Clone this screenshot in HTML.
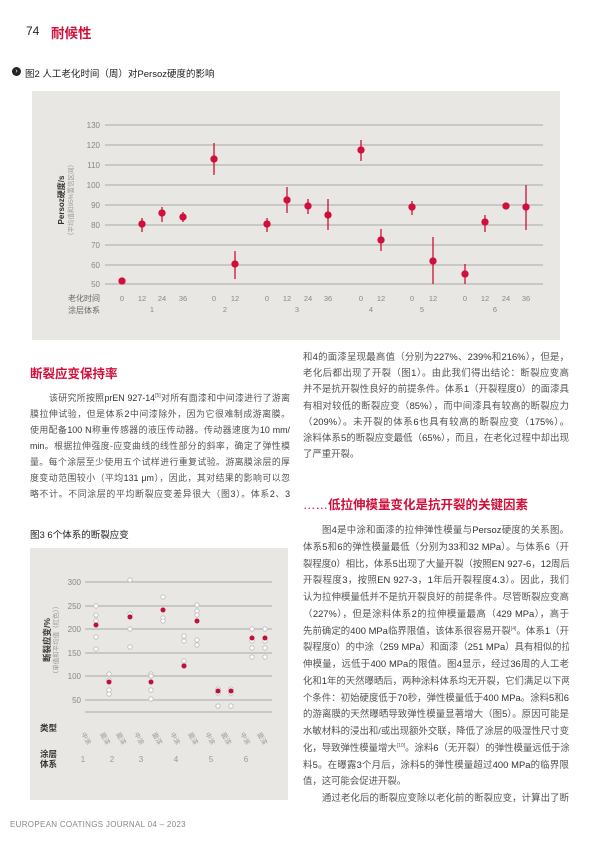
<!DOCTYPE html>
<html><head><meta charset="utf-8"><style>
*{margin:0;padding:0;box-sizing:border-box}
body{width:600px;height:849px;background:#fff;position:relative;overflow:hidden;font-family:"Liberation Sans","Noto Sans CJK SC",sans-serif;}
.l{position:absolute;font-size:9.4px;color:#555;text-align:justify;text-align-last:justify;white-space:nowrap;height:14px;line-height:14px;overflow:hidden}
.s{font-size:8.9px}
.nl{text-align-last:left}
b{color:#333;font-weight:normal}
sup{font-size:5px;line-height:0;vertical-align:4px}
.h{position:absolute;color:#d0103a;font-weight:bold;font-size:12.5px}
svg{position:absolute;left:0;top:0}
</style></head><body>
<div style="position:absolute;left:26px;top:24px;font-size:12px;color:#222">74</div>
<div style="position:absolute;left:51px;top:22px;font-size:13.5px;color:#d0103a;font-weight:bold">耐候性</div>
<div style="position:absolute;left:12px;top:67px;width:9px;height:9px;border-radius:50%;background:#222;color:#fff;font-size:7px;line-height:9px;text-align:center">›</div>
<div style="position:absolute;left:25px;top:66px;font-size:9.5px;color:#222">图2 人工老化时间（周）对Persoz硬度的影响</div>
<div style="position:absolute;left:30px;top:527px;font-size:9.5px;color:#222">图3 6个体系的断裂应变</div>

<svg width="600" height="849" font-family="Liberation Sans, Noto Sans CJK SC, sans-serif">
<rect x="32" y="91" width="528" height="249" fill="#e8e7e3"/>
<g stroke="#a8a8a4" stroke-width="1">
<line x1="105" x2="543" y1="125" y2="125"/><line x1="105" x2="543" y1="145" y2="145"/><line x1="105" x2="543" y1="165" y2="165"/><line x1="105" x2="543" y1="185" y2="185"/><line x1="105" x2="543" y1="205" y2="205"/><line x1="105" x2="543" y1="225" y2="225"/><line x1="105" x2="543" y1="245" y2="245"/><line x1="105" x2="543" y1="265" y2="265"/><line x1="105" x2="543" y1="284" y2="284"/>
</g>
<g font-size="8" fill="#888" text-anchor="end">
<text x="100" y="128">130</text><text x="100" y="148">120</text><text x="100" y="168">110</text><text x="100" y="188">100</text><text x="100" y="208">90</text><text x="100" y="228">80</text><text x="100" y="248">70</text><text x="100" y="268">60</text><text x="100" y="287">50</text>
</g>
<text transform="translate(64,200) rotate(-90)" font-size="8" font-weight="bold" fill="#333" text-anchor="middle">Persoz硬度/s</text>
<text transform="translate(73,200) rotate(-90)" font-size="6.5" fill="#999" text-anchor="middle">（平均值和95%置信区间）</text>
<g font-size="8" fill="#666">
<text x="68" y="301">老化时间</text><text x="68" y="313">涂层体系</text>
</g>
<g font-size="7.5" fill="#888" text-anchor="middle">
<text x="122" y="301">0</text><text x="142" y="301">12</text><text x="162" y="301">24</text><text x="183" y="301">36</text>
<text x="214" y="301">0</text><text x="235" y="301">12</text>
<text x="267" y="301">0</text><text x="287" y="301">12</text><text x="308" y="301">24</text><text x="328" y="301">36</text>
<text x="361" y="301">0</text><text x="381" y="301">12</text>
<text x="412" y="301">0</text><text x="433" y="301">12</text>
<text x="465" y="301">0</text><text x="485" y="301">12</text><text x="506" y="301">24</text><text x="526" y="301">36</text>
<text x="152" y="312">1</text><text x="225" y="312">2</text><text x="297" y="312">3</text><text x="371" y="312">4</text><text x="422" y="312">5</text><text x="495" y="312">6</text>
</g>
<g stroke="#d0103a" stroke-width="1.3" fill="#d0103a">
<line x1="122" x2="122" y1="278" y2="282"/><circle cx="122" cy="281" r="3"/>
<line x1="142" x2="142" y1="218" y2="232"/><circle cx="142" cy="224" r="3"/>
<line x1="162" x2="162" y1="207" y2="222"/><circle cx="162" cy="213" r="3"/>
<line x1="183" x2="183" y1="212" y2="222"/><circle cx="183" cy="217" r="3"/>
<line x1="214" x2="214" y1="143" y2="175"/><circle cx="214" cy="159" r="3"/>
<line x1="235" x2="235" y1="251" y2="279"/><circle cx="235" cy="264" r="3"/>
<line x1="267" x2="267" y1="218" y2="232"/><circle cx="267" cy="224" r="3"/>
<line x1="287" x2="287" y1="187" y2="213"/><circle cx="287" cy="200" r="3"/>
<line x1="308" x2="308" y1="199" y2="214"/><circle cx="308" cy="206" r="3"/>
<line x1="328" x2="328" y1="199" y2="230"/><circle cx="328" cy="215" r="3"/>
<line x1="361" x2="361" y1="140" y2="161"/><circle cx="361" cy="150" r="3"/>
<line x1="381" x2="381" y1="229" y2="251"/><circle cx="381" cy="240" r="3"/>
<line x1="412" x2="412" y1="201" y2="215"/><circle cx="412" cy="207" r="3"/>
<line x1="433" x2="433" y1="237" y2="284"/><circle cx="433" cy="261" r="3"/>
<line x1="465" x2="465" y1="264" y2="284"/><circle cx="465" cy="274" r="3"/>
<line x1="485" x2="485" y1="215" y2="232"/><circle cx="485" cy="222" r="3"/>
<line x1="506" x2="506" y1="203" y2="209"/><circle cx="506" cy="206" r="3"/>
<line x1="526" x2="526" y1="185" y2="230"/><circle cx="526" cy="207" r="3"/>
</g>

<rect x="30" y="548" width="258" height="252" fill="#e8e7e3"/>
<g stroke="#a8a8a4" stroke-width="1">
<line x1="85" x2="272" y1="582" y2="582"/><line x1="85" x2="272" y1="606" y2="606"/><line x1="85" x2="272" y1="629" y2="629"/><line x1="85" x2="272" y1="653" y2="653"/><line x1="85" x2="272" y1="676" y2="676"/><line x1="85" x2="272" y1="700" y2="700"/><line x1="85" x2="272" y1="712" y2="712"/>
</g>
<g font-size="8" fill="#888" text-anchor="end">
<text x="81" y="585">300</text><text x="81" y="609">250</text><text x="81" y="632">200</text><text x="81" y="656">150</text><text x="81" y="679">100</text><text x="81" y="703">50</text>
</g>
<text transform="translate(50,640) rotate(-90)" font-size="8.5" font-weight="bold" fill="#333" text-anchor="middle">断裂应变/%</text>
<text transform="translate(58,640) rotate(-90)" font-size="6.5" fill="#999" text-anchor="middle">（单值和平均值（红色））</text>
<g fill="#fff" stroke="#bbb" stroke-width="0.8">
<circle cx="96" cy="606" r="2.2"/><circle cx="96" cy="615" r="2.2"/><circle cx="96" cy="621" r="2.2"/><circle cx="96" cy="637" r="2.2"/><circle cx="96" cy="649" r="2.2"/>
<circle cx="109" cy="674" r="2.2"/><circle cx="109" cy="680" r="2.2"/><circle cx="109" cy="690" r="2.2"/><circle cx="109" cy="694" r="2.2"/>
<circle cx="130" cy="580" r="2.2"/><circle cx="130" cy="614" r="2.2"/><circle cx="130" cy="629" r="2.2"/><circle cx="130" cy="647" r="2.2"/>
<circle cx="151" cy="674" r="2.2"/><circle cx="151" cy="676" r="2.2"/><circle cx="151" cy="690" r="2.2"/><circle cx="151" cy="699" r="2.2"/>
<circle cx="163" cy="597" r="2.2"/><circle cx="163" cy="618" r="2.2"/><circle cx="163" cy="621" r="2.2"/>
<circle cx="184" cy="636" r="2.2"/><circle cx="184" cy="641" r="2.2"/><circle cx="184" cy="661" r="2.2"/><circle cx="184" cy="665" r="2.2"/>
<circle cx="197" cy="605" r="2.2"/><circle cx="197" cy="611" r="2.2"/><circle cx="197" cy="615" r="2.2"/><circle cx="197" cy="640" r="2.2"/><circle cx="197" cy="645" r="2.2"/>
<circle cx="218" cy="689" r="2.2"/><circle cx="218" cy="693" r="2.2"/><circle cx="218" cy="706" r="2.2"/>
<circle cx="231" cy="689" r="2.2"/><circle cx="231" cy="693" r="2.2"/><circle cx="231" cy="706" r="2.2"/>
<circle cx="252" cy="629" r="2.2"/><circle cx="252" cy="641" r="2.2"/><circle cx="252" cy="648" r="2.2"/><circle cx="252" cy="657" r="2.2"/>
<circle cx="265" cy="629" r="2.2"/><circle cx="265" cy="641" r="2.2"/><circle cx="265" cy="648" r="2.2"/><circle cx="265" cy="657" r="2.2"/>
</g>
<g fill="#c0103a">
<circle cx="96" cy="625" r="2.5"/><circle cx="109" cy="682" r="2.5"/><circle cx="130" cy="617" r="2.5"/><circle cx="151" cy="682" r="2.5"/><circle cx="163" cy="610" r="2.5"/><circle cx="184" cy="666" r="2.5"/><circle cx="197" cy="621" r="2.5"/><circle cx="218" cy="691" r="2.5"/><circle cx="231" cy="691" r="2.5"/><circle cx="252" cy="638" r="2.5"/><circle cx="265" cy="638" r="2.5"/>
</g>
<g font-size="8.5" font-weight="bold" fill="#333">
<text x="40" y="731">类型</text><text x="40" y="757">涂层</text><text x="40" y="767">体系</text>
</g>
<g font-size="6.5" fill="#999">
<text transform="translate(81,734) rotate(60)">中涂</text><text transform="translate(100,734) rotate(60)">面漆</text><text transform="translate(116,734) rotate(60)">面漆</text><text transform="translate(134,734) rotate(60)">中涂</text><text transform="translate(152,734) rotate(60)">面漆</text><text transform="translate(170,734) rotate(60)">中涂</text><text transform="translate(188,734) rotate(60)">面漆</text><text transform="translate(205,734) rotate(60)">中涂</text><text transform="translate(221,734) rotate(60)">面漆</text><text transform="translate(240,734) rotate(60)">中涂</text><text transform="translate(257,734) rotate(60)">面漆</text>
</g>
<g font-size="8" fill="#999" text-anchor="middle">
<text x="83" y="762">1</text><text x="112" y="762">2</text><text x="141" y="762">3</text><text x="176" y="762">4</text><text x="211" y="762">5</text><text x="246" y="762">6</text>
</g>
</svg>

<div class="h" style="left:30px;top:363px">断裂应变保持率</div>
<div class="l s" style="left:30px;top:391px;width:260px;padding-left:19px">该研究所按照<b>prEN 927-14</b><sup>[5]</sup>对所有面漆和中间漆进行了游离</div>
<div class="l s" style="left:30px;top:407px;width:260px">膜拉伸试验，但是体系<b>2</b>中间漆除外，因为它很难制成游离膜。</div>
<div class="l s" style="left:30px;top:423px;width:260px">使用配备<b>100 N</b>称重传感器的液压传动器。传动器速度为<b>10 mm/</b></div>
<div class="l s" style="left:30px;top:439px;width:260px"><b>min</b>。根据拉伸强度-应变曲线的线性部分的斜率，确定了弹性模</div>
<div class="l s" style="left:30px;top:455px;width:260px">量。每个涂层至少使用五个试样进行重复试验。游离膜涂层的厚</div>
<div class="l s" style="left:30px;top:471px;width:260px">度变动范围较小（平均<b>131 μm</b>），因此，其对结果的影响可以忽</div>
<div class="l s" style="left:30px;top:487px;width:260px">略不计。不同涂层的平均断裂应变差异很大（图<b>3</b>）。体系<b>2</b>、<b>3</b></div>

<div class="l" style="left:303px;top:350px;width:266px">和<b>4</b>的面漆呈现最高值（分别为<b>227%</b>、<b>239%</b>和<b>216%</b>），但是，</div>
<div class="l" style="left:303px;top:366px;width:266px">老化后都出现了开裂（图<b>1</b>）。由此我们得出结论：断裂应变高</div>
<div class="l" style="left:303px;top:382px;width:266px">并不是抗开裂性良好的前提条件。体系<b>1</b>（开裂程度<b>0</b>）的面漆具</div>
<div class="l" style="left:303px;top:399px;width:266px">有相对较低的断裂应变（<b>85%</b>），而中间漆具有较高的断裂应力</div>
<div class="l" style="left:303px;top:415px;width:266px">（<b>209%</b>）。未开裂的体系<b>6</b>也具有较高的断裂应变（<b>175%</b>）。</div>
<div class="l" style="left:303px;top:431px;width:266px">涂料体系<b>5</b>的断裂应变最低（<b>65%</b>），而且，在老化过程中却出现</div>
<div class="l nl" style="left:303px;top:447px;width:266px">了严重开裂。</div>

<div class="h" style="left:303px;top:494px"><span style="font-weight:normal">……</span>低拉伸模量变化是抗开裂的关键因素</div>

<div class="l" style="left:303px;top:523px;width:266px;padding-left:19px">图<b>4</b>是中涂和面漆的拉伸弹性模量与<b>Persoz</b>硬度的关系图。</div>
<div class="l" style="left:303px;top:540px;width:266px">体系<b>5</b>和<b>6</b>的弹性模量最低（分别为<b>33</b>和<b>32 MPa</b>）。与体系<b>6</b>（开</div>
<div class="l" style="left:303px;top:557px;width:266px">裂程度<b>0</b>）相比，体系<b>5</b>出现了大量开裂（按照<b>EN 927-6</b>，<b>12</b>周后</div>
<div class="l" style="left:303px;top:573px;width:266px">开裂程度<b>3</b>，按照<b>EN 927-3</b>，<b>1</b>年后开裂程度<b>4.3</b>）。因此，我们</div>
<div class="l" style="left:303px;top:590px;width:266px">认为拉伸模量低并不是抗开裂良好的前提条件。尽管断裂应变高</div>
<div class="l" style="left:303px;top:607px;width:266px">（<b>227%</b>），但是涂料体系<b>2</b>的拉伸模量最高（<b>429 MPa</b>），高于</div>
<div class="l" style="left:303px;top:624px;width:266px">先前确定的<b>400 MPa</b>临界限值，该体系很容易开裂<sup>[4]</sup>。体系<b>1</b>（开</div>
<div class="l" style="left:303px;top:640px;width:266px">裂程度<b>0</b>）的中涂（<b>259 MPa</b>）和面漆（<b>251 MPa</b>）具有相似的拉</div>
<div class="l" style="left:303px;top:657px;width:266px">伸模量，远低于<b>400 MPa</b>的限值。图<b>4</b>显示，经过<b>36</b>周的人工老</div>
<div class="l" style="left:303px;top:674px;width:266px">化和<b>1</b>年的天然曝晒后，两种涂料体系均无开裂，它们满足以下两</div>
<div class="l" style="left:303px;top:691px;width:266px">个条件：初始硬度低于<b>70</b>秒，弹性模量低于<b>400 MPa</b>。涂料<b>5</b>和<b>6</b></div>
<div class="l" style="left:303px;top:707px;width:266px">的游离膜的天然曝晒导致弹性模量显著增大（图<b>5</b>）。原因可能是</div>
<div class="l" style="left:303px;top:724px;width:266px">水敏材料的浸出和/或出现额外交联，降低了涂层的吸湿性尺寸变</div>
<div class="l" style="left:303px;top:741px;width:266px">化，导致弹性模量增大<sup>[10]</sup>。涂料<b>6</b>（无开裂）的弹性模量远低于涂</div>
<div class="l" style="left:303px;top:758px;width:266px">料<b>5</b>。在曝露<b>3</b>个月后，涂料<b>5</b>的弹性模量超过<b>400 MPa</b>的临界限</div>
<div class="l nl" style="left:303px;top:774px;width:266px">值，这可能会促进开裂。</div>
<div class="l" style="left:303px;top:791px;width:266px;padding-left:19px">通过老化后的断裂应变除以老化前的断裂应变，计算出了断</div>

<div style="position:absolute;left:10px;top:820px;font-size:8px;color:#888;letter-spacing:0.3px">EUROPEAN COATINGS JOURNAL 04 – 2023</div>
</body></html>
